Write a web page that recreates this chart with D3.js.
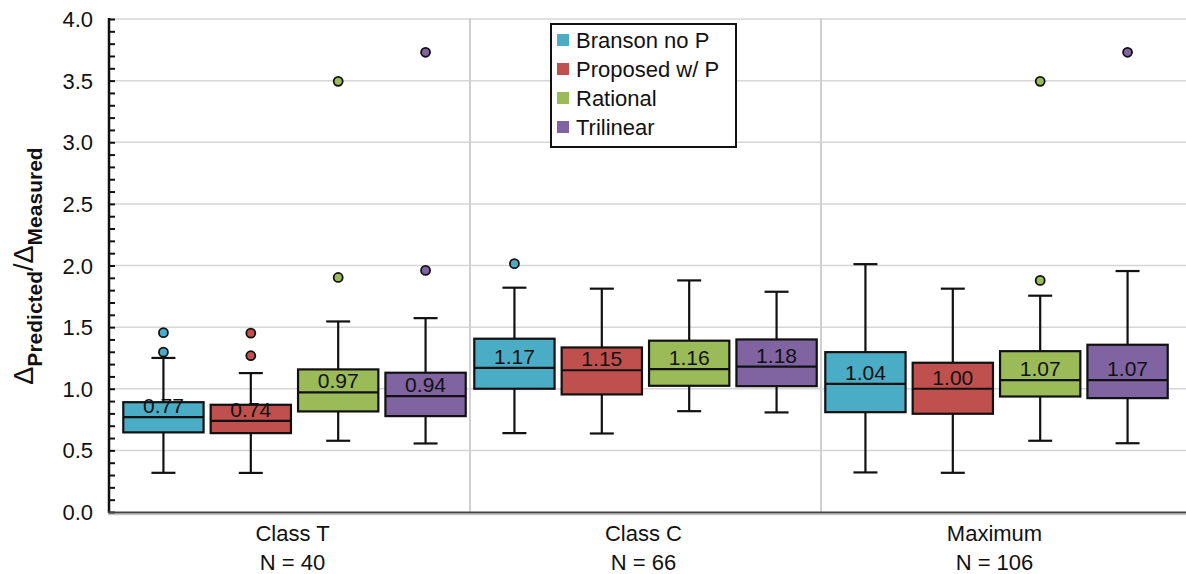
<!DOCTYPE html>
<html>
<head>
<meta charset="utf-8">
<script src="https://cdn.jsdelivr.net/npm/d3@7"></script>
<style>
  body { margin: 0; background: #fff; }
  svg { font-family: "Liberation Sans", Arial, sans-serif; }
</style>
</head>
<body>
<svg width="1186" height="574"></svg>
<script>
var categories = ["Class T", "Class C", "Maximum"];
var counts = [40, 66, 106];
var series = ["Branson no P", "Proposed w/ P", "Rational", "Trilinear"];
var colors = ["#4bacc6", "#c0504d", "#9bbb59", "#8064a2"];
var yTicks = [0, 0.5, 1, 1.5, 2, 2.5, 3, 3.5, 4];

// one row per category, one entry per series
var medians = [[0.77, 0.74, 0.97, 0.94], [1.17, 1.15, 1.16, 1.18], [1.04, 1.00, 1.07, 1.07]];
var q1 = [[0.646, 0.640, 0.816, 0.778], [1.000, 0.954, 1.024, 1.021], [0.810, 0.797, 0.937, 0.924]];
var q3 = [[0.891, 0.870, 1.157, 1.130], [1.406, 1.335, 1.390, 1.400], [1.297, 1.211, 1.305, 1.357]];
var whiskLow = [[0.318, 0.317, 0.578, 0.556], [0.640, 0.637, 0.818, 0.808], [0.321, 0.318, 0.578, 0.558]];
var whiskHigh = [[1.250, 1.127, 1.546, 1.573], [1.820, 1.812, 1.879, 1.787], [2.011, 1.812, 1.755, 1.955]];
var outliers = [
	[[1.455, 1.297], [1.451, 1.268], [1.903, 3.494], [1.96, 3.73]],
	[[2.015], [], [], []],
	[[], [], [1.879, 3.494], [3.73]]
];

var svg = d3.select("svg"),
    width = +svg.attr("width"),
    height = +svg.attr("height");

var plot = {left: 109, right: width, top: 19, bottom: 512};

var y = d3.scaleLinear().domain([0, 4]).range([plot.bottom, plot.top]);
var x = d3.scaleBand().domain(categories).range([119, 1172]);
var xs = d3.scaleBand().domain(series).range([0, x.bandwidth()])
	.paddingInner(0.081).paddingOuter(0.049);

// grid
svg.append("g").selectAll("line")
	.data(yTicks.slice(1))
	.enter().append("line")
	.attr("x1", plot.left).attr("x2", plot.right)
	.attr("y1", function(d) { return y(d); })
	.attr("y2", function(d) { return y(d); })
	.attr("stroke", "#d6d6d6").attr("stroke-width", 1.5);

svg.append("g").selectAll("line")
	.data(categories.slice(1))
	.enter().append("line")
	.attr("x1", function(d) { return x(d); })
	.attr("x2", function(d) { return x(d); })
	.attr("y1", plot.top - 1).attr("y2", plot.bottom)
	.attr("stroke", "#d0d0d0").attr("stroke-width", 2);

// boxes
var rows = [];
categories.forEach(function(c, ci) {
	series.forEach(function(s, si) {
		rows.push({c: c, s: s, si: si, med: medians[ci][si], lo: q1[ci][si], hi: q3[ci][si],
			wl: whiskLow[ci][si], wh: whiskHigh[ci][si], out: outliers[ci][si]});
	});
});

var box = svg.append("g").selectAll("g")
	.data(rows)
	.enter().append("g")
	.attr("transform", function(d) { return "translate(" + (x(d.c) + xs(d.s)) + ",0)"; });

var bw = xs.bandwidth(), cx = bw / 2;

box.append("line")
	.attr("x1", cx).attr("x2", cx)
	.attr("y1", function(d) { return y(d.wh); })
	.attr("y2", function(d) { return y(d.wl); })
	.attr("stroke", "#111").attr("stroke-width", 2.2);

box.selectAll(".cap")
	.data(function(d) { return [d.wl, d.wh]; })
	.enter().append("line")
	.attr("class", "cap")
	.attr("x1", cx - 12).attr("x2", cx + 12)
	.attr("y1", function(d) { return y(d); })
	.attr("y2", function(d) { return y(d); })
	.attr("stroke", "#111").attr("stroke-width", 2.2);

box.append("rect")
	.attr("x", 0).attr("width", bw)
	.attr("y", function(d) { return y(d.hi); })
	.attr("height", function(d) { return y(d.lo) - y(d.hi); })
	.attr("fill", function(d) { return colors[d.si]; })
	.attr("stroke", "#111").attr("stroke-width", 2.2);

box.append("line")
	.attr("x1", 0).attr("x2", bw)
	.attr("y1", function(d) { return y(d.med); })
	.attr("y2", function(d) { return y(d.med); })
	.attr("stroke", "#111").attr("stroke-width", 2.2);

box.append("text")
	.attr("x", cx)
	.attr("y", function(d) { return y(d.med) - 4; })
	.attr("text-anchor", "middle")
	.style("font-size", "21px")
	.attr("fill", "#111")
	.text(function(d) { return d3.format(".2f")(d.med); });

box.selectAll("circle")
	.data(function(d) { return d.out.map(function(v) { return {v: v, si: d.si}; }); })
	.enter().append("circle")
	.attr("cx", cx)
	.attr("cy", function(d) { return y(d.v); })
	.attr("r", 4.5)
	.attr("fill", function(d) { return colors[d.si]; })
	.attr("stroke", "#111").attr("stroke-width", 1.8);

// axes
var yAxis = svg.append("g")
	.attr("transform", "translate(" + plot.left + ",0)")
	.call(d3.axisRight(y).ticks(40).tickSize(6).tickFormat(""));
yAxis.select(".domain").attr("stroke", "#111").attr("stroke-width", 2.5)
	.attr("d", "M0," + (plot.top - 1) + "V" + (plot.bottom + 1));
yAxis.selectAll(".tick line").attr("stroke", "#111").attr("stroke-width", 2);

svg.append("g").selectAll("text")
	.data(yTicks)
	.enter().append("text")
	.attr("x", 93)
	.attr("y", function(d) { return y(d) + 8; })
	.attr("text-anchor", "end")
	.style("font-size", "22px")
	.attr("fill", "#111")
	.text(function(d) { return d3.format(".1f")(d); });

svg.append("line")
	.attr("x1", plot.left - 1).attr("x2", plot.right)
	.attr("y1", plot.bottom + 2.5).attr("y2", plot.bottom + 2.5)
	.attr("stroke", "#c8c8c8").attr("stroke-width", 1.5);
svg.append("line")
	.attr("x1", plot.left - 1).attr("x2", plot.right)
	.attr("y1", plot.bottom + 0.5).attr("y2", plot.bottom + 0.5)
	.attr("stroke", "#444").attr("stroke-width", 2);

var xl = svg.append("g").selectAll("text")
	.data(categories)
	.enter().append("text")
	.attr("text-anchor", "middle")
	.style("font-size", "22px")
	.attr("fill", "#111");
xl.append("tspan")
	.attr("x", function(d) { return x(d) + x.bandwidth() / 2 - 2; })
	.attr("y", 541)
	.text(function(d) { return d; });
xl.append("tspan")
	.attr("x", function(d) { return x(d) + x.bandwidth() / 2 - 2; })
	.attr("y", 570)
	.text(function(d, i) { return "N = " + counts[i]; });

// y label
var yl = svg.append("text")
	.attr("transform", "translate(33,266) rotate(-90)")
	.attr("text-anchor", "middle")
	.attr("fill", "#111");
yl.append("tspan").style("font-size", "27px").text("\u0394");
yl.append("tspan").style("font-size", "21px").style("font-weight", "bold").attr("dy", 9).text("Predicted");
yl.append("tspan").style("font-size", "27px").attr("dy", -9).text("/\u0394");
yl.append("tspan").style("font-size", "21px").style("font-weight", "bold").attr("dy", 9).text("Measured");

// legend
var legend = svg.append("g").attr("transform", "translate(551,24)");
legend.append("rect")
	.attr("width", 185).attr("height", 123)
	.attr("fill", "#fff").attr("stroke", "#111").attr("stroke-width", 2);
var item = legend.selectAll(".item")
	.data(series)
	.enter().append("g")
	.attr("class", "item")
	.attr("transform", function(d, i) { return "translate(0," + (16 + i * 29) + ")"; });
item.append("rect")
	.attr("x", 6).attr("y", -6).attr("width", 12).attr("height", 12)
	.attr("fill", function(d, i) { return colors[i]; });
item.append("text")
	.attr("x", 25).attr("y", 7.5)
	.style("font-size", "22px")
	.attr("fill", "#111")
	.text(function(d) { return d; });
</script>
</body>
</html>
